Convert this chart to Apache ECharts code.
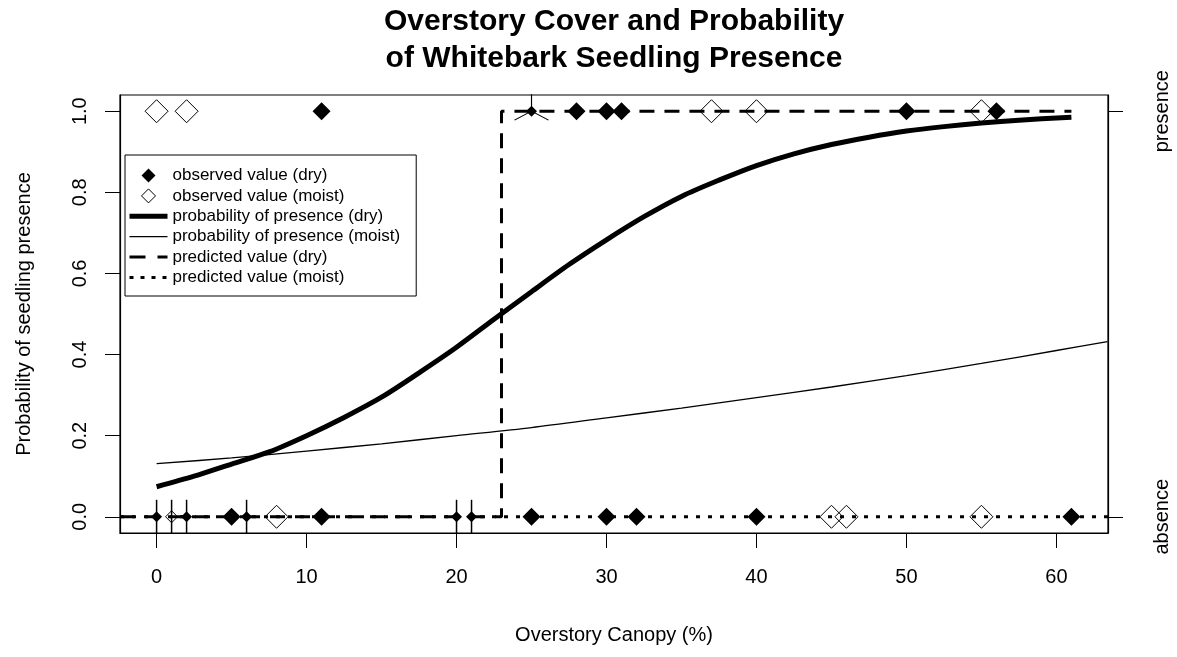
<!DOCTYPE html>
<html>
<head>
<meta charset="utf-8">
<script src="https://cdn.jsdelivr.net/npm/echarts@6/dist/echarts.min.js"></script>
<style>
  html, body { margin: 0; padding: 0; background: #fff; }
  #chart { width: 1177px; height: 657px; }
</style>
</head>
<body>
<div id="chart"></div>
<script>
// axis ticks
const xTicks = [0, 10, 20, 30, 40, 50, 60]
const yTicks = [0, 0.2, 0.4, 0.6, 0.8, 1]
const sideTicks = [0, 1]
const sideLabels = ['absence', 'presence']

// observed points (x = canopy %, y = 0 absent / 1 present)
const dryPresentX = [11, 28, 30, 31, 50, 56]
const dryAbsentX = [5, 11, 25, 30, 32, 40, 61]
const moistPresentX = [0, 2, 37, 40, 55]
const moistAbsentX = [8, 45, 46, 55]
const drySmall = [[0, 0], [2, 0], [6, 0], [20, 0], [21, 0], [25, 1]]
const moistSmall = [[1, 0]]
const rugX = [0, 1, 2, 6, 20, 21]
const starX = [25]

// fitted probability curves
const dryCurveX = [0, 2.5, 5, 7.5, 10, 12.5, 15, 17.5, 20, 22.5, 25, 27.5, 30, 32.5, 35, 37.5, 40, 42.5, 45, 47.5, 50, 52.5, 55, 57.5, 61]
const dryProb = [0.074, 0.1, 0.13, 0.16, 0.2, 0.245, 0.295, 0.355, 0.418, 0.487, 0.555, 0.622, 0.683, 0.74, 0.79, 0.83, 0.866, 0.895, 0.918, 0.936, 0.951, 0.962, 0.971, 0.978, 0.985]
const moistCurveX = [0, 5, 10, 15, 20, 25, 30, 35, 40, 45, 50, 55, 60, 63.4]
const moistProb = [0.131, 0.145, 0.162, 0.18, 0.2, 0.22, 0.244, 0.268, 0.294, 0.32, 0.348, 0.378, 0.41, 0.432]

// predicted values
const predDryX = [-2.44, 23, 23, 61]
const predDryY = [0, 0, 1, 1]
const predMoistX = [-2.44, 63.44]
const predMoistY = [0, 0]

const font = "'Liberation Sans', Arial, sans-serif"
const diamond = 'path://M0,-1L1,0L0,1L-1,0Z'

const pts = (xs, y) => xs.map(x => [x, y])
const zip = (xs, ys) => xs.map((x, i) => [x, ys[i]])

const nm = {
    dryObs: 'observed value (dry)',
    moistObs: 'observed value (moist)',
    dryProb: 'probability of presence (dry)',
    moistProb: 'probability of presence (moist)',
    dryPred: 'predicted value (dry)',
    moistPred: 'predicted value (moist)',
}

// dash patterns
const dashDry = [15, 10]
const dashMoist = [4, 8]

var myChart = echarts.init(document.getElementById('chart'))
myChart.setOption({
    animation: false,
    backgroundColor: '#fff',
    title: {
        text: 'Overstory Cover and Probability\nof Whitebark Seedling Presence',
        left: 609,
        top: -2,
        textAlign: 'center',
        textStyle: { fontFamily: font, fontSize: 30, fontWeight: 'bold', color: '#000', lineHeight: 37 },
    },
    legend: {
        orient: 'vertical',
        left: 125,
        top: 155,
        padding: [12, 16, 10, 2],
        itemWidth: 38,
        itemHeight: 14,
        itemGap: 3.4,
        borderColor: '#000',
        borderWidth: 1,
        backgroundColor: '#fff',
        textStyle: { fontFamily: font, fontSize: 17, color: '#000' },
        data: [
            { name: nm.dryObs, icon: diamond, itemStyle: { color: '#000', borderWidth: 0 } },
            { name: nm.moistObs, icon: diamond, itemStyle: { color: '#fff', borderColor: '#000', borderWidth: 1 } },
            { name: nm.dryProb, itemStyle: { opacity: 0 }, lineStyle: { color: '#000', width: 5, type: 'solid' } },
            { name: nm.moistProb, itemStyle: { opacity: 0 }, lineStyle: { color: '#000', width: 1.3, type: 'solid' } },
            { name: nm.dryPred, itemStyle: { opacity: 0 }, lineStyle: { color: '#000', width: 3, type: [16, 12] } },
            { name: nm.moistPred, itemStyle: { opacity: 0 }, lineStyle: { color: '#000', width: 3, type: [4, 7] } },
        ],
    },
    grid: {
        left: 120, right: 69, top: 95, bottom: 124,
        show: true, borderColor: '#000', borderWidth: 1.2,
    },
    xAxis: {
        type: 'value',
        min: -2.44,
        max: 63.44,
        name: 'Overstory Canopy (%)',
        nameLocation: 'middle',
        nameGap: 92,
        nameTextStyle: { fontFamily: font, fontSize: 20, color: '#000' },
        axisLine: { onZero: false, lineStyle: { color: '#000', width: 1.2 } },
        axisTick: { customValues: xTicks, length: 15, lineStyle: { color: '#000' } },
        axisLabel: { customValues: xTicks, margin: 34, fontFamily: font, fontSize: 20, color: '#000' },
        splitLine: { show: false },
    },
    yAxis: [{
        type: 'value',
        min: -0.04,
        max: 1.04,
        name: 'Probability of seedling presence',
        nameLocation: 'middle',
        nameRotate: 90,
        nameGap: 86,
        nameTextStyle: { fontFamily: font, fontSize: 20, color: '#000' },
        axisLine: { show: true, onZero: false, lineStyle: { color: '#000', width: 1.2 } },
        axisTick: { show: true, customValues: yTicks, length: 15, lineStyle: { color: '#000' } },
        axisLabel: {
            customValues: yTicks, rotate: 90, margin: 30,
            fontFamily: font, fontSize: 20, color: '#000',
            formatter: v => v.toFixed(1),
        },
        splitLine: { show: false },
    }, {
        type: 'value',
        position: 'right',
        min: -0.04,
        max: 1.04,
        axisLine: { show: true, onZero: false, lineStyle: { color: '#000', width: 1.2 } },
        axisTick: { show: true, customValues: sideTicks, length: 15, lineStyle: { color: '#000' } },
        axisLabel: {
            customValues: sideTicks, rotate: 90, margin: 44,
            fontFamily: font, fontSize: 20, color: '#000',
            formatter: v => sideLabels[Math.round(v)],
        },
        splitLine: { show: false },
    }],
    series: [
        {
            name: nm.dryPred, type: 'line', z: 2, symbol: 'none',
            data: zip(predDryX, predDryY),
            lineStyle: { color: '#000', width: 3, type: dashDry },
        },
        {
            name: nm.moistPred, type: 'line', z: 2, symbol: 'none',
            data: zip(predMoistX, predMoistY),
            lineStyle: { color: '#000', width: 3, type: dashMoist },
        },
        {
            name: nm.dryProb, type: 'line', z: 3, symbol: 'none', smooth: 0.3,
            data: zip(dryCurveX, dryProb),
            lineStyle: { color: '#000', width: 5 },
        },
        {
            name: nm.moistProb, type: 'line', z: 3, symbol: 'none', smooth: 0.3,
            data: zip(moistCurveX, moistProb),
            lineStyle: { color: '#000', width: 1.3 },
        },
        {
            name: nm.dryObs, type: 'scatter', z: 5, symbol: 'diamond', symbolSize: 18,
            data: pts(dryPresentX, 1).concat(pts(dryAbsentX, 0)),
            itemStyle: { color: '#000', opacity: 1 },
        },
        {
            name: nm.dryObs, type: 'scatter', z: 5, symbol: 'diamond', symbolSize: 11,
            data: drySmall,
            itemStyle: { color: '#000', opacity: 1 },
        },
        {
            name: nm.moistObs, type: 'scatter', z: 5, symbol: 'diamond', symbolSize: 23,
            data: pts(moistPresentX, 1).concat(pts(moistAbsentX, 0)),
            itemStyle: { color: 'rgba(0,0,0,0)', borderColor: '#000', borderWidth: 1, opacity: 1 },
        },
        {
            name: nm.moistObs, type: 'scatter', z: 5, symbol: 'diamond', symbolSize: 12,
            data: moistSmall,
            itemStyle: { color: 'rgba(0,0,0,0)', borderColor: '#000', borderWidth: 1, opacity: 1 },
        },
        {
            name: 'rug', type: 'scatter', z: 6, symbol: 'rect', symbolSize: [1.5, 34],
            data: pts(rugX, 0),
            itemStyle: { color: '#000', opacity: 1 },
        },
        {
            name: 'star', type: 'scatter', z: 6,
            symbol: 'path://M0,0L0,-17M0,0L-17,9M0,0L17,9',
            symbolSize: [34, 26], symbolOffset: [0, -4],
            data: pts(starX, 1),
            itemStyle: { color: 'rgba(0,0,0,0)', borderColor: '#000', borderWidth: 1, opacity: 1 },
        },
    ],
})
</script>
</body>
</html>
